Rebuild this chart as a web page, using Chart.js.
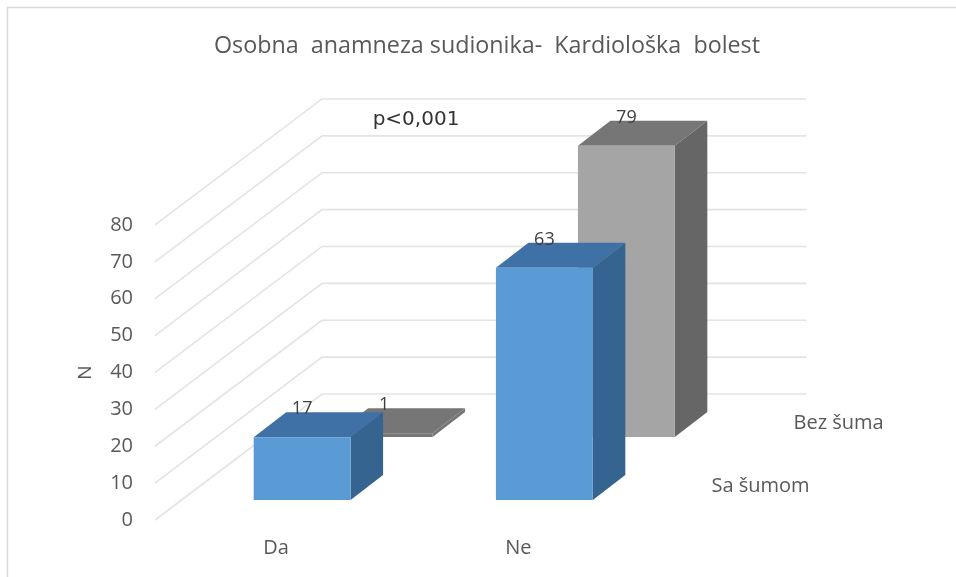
<!DOCTYPE html>
<html>
<head>
<meta charset="utf-8">
<style>html,body{margin:0;padding:0;background:#fff}#w{width:956px;height:577px}canvas{display:block}</style>
<script src="https://cdn.jsdelivr.net/npm/chart.js@4"></script>
</head>
<body>
<div id="w"><canvas id="c" width="956" height="577"></canvas></div>
<script>
const categories = ["Da", "Ne"];
const seriesNames = ["Sa šumom", "Bez šuma"];
const saSumom = [17, 63];
const bezSuma = [1, 79];
const yTicks = [0, 10, 20, 30, 40, 50, 60, 70, 80];
const chartTitle = "Osobna  anamneza sudionika-  Kardiološka  bolest";
const note = "p<0,001";
const frontColors = [["#5B9BD5", "#5B9BD5"], ["#767676", "#A5A5A5"]];
const topColors = ["#3F71A6", "#767676"];
const sideColors = [["#366490", "#366490"], ["#767676", "#666666"]];
const seriesShift = [[26, -20], [108, -83]];
const barDepth = [32.5, -25];
const wallShift = [167, -126];
const textFont = "'Open Sans', Lato, sans-serif";

const depth3d = {
  id: "depth3d",
  beforeDraw(chart) {
    const x = chart.ctx;
    x.save();
    x.strokeStyle = "#D9D9D9";
    x.lineWidth = 1.5;
    x.beginPath();
    x.moveTo(960, 7.5); x.lineTo(7.5, 7.5); x.lineTo(7.5, 580);
    x.stroke();
    x.restore();
  },
  afterLayout(chart) {
    chart.titleBlock.left = 214;
    chart.titleBlock.right = 760;
  },
  beforeDatasetsDraw(chart) {
    const x = chart.ctx, s = chart.scales.y, a = chart.chartArea;
    x.save();
    x.strokeStyle = "#E3E3E3";
    x.lineWidth = 1.6;
    yTicks.forEach(v => {
      const py = s.getPixelForValue(v);
      x.beginPath();
      x.moveTo(a.left, py);
      x.lineTo(a.left + wallShift[0], py + wallShift[1]);
      x.lineTo(a.right + wallShift[0], py + wallShift[1]);
      x.stroke();
    });
    x.restore();
  },
  beforeDatasetDraw(chart, args) {
    const x = chart.ctx, i = args.index, sh = seriesShift[i];
    x.save();
    x.translate(sh[0], sh[1]);
    args.meta.data.forEach((b, j) => {
      const l = b.x - b.width / 2, r = b.x + b.width / 2, t = b.y, bo = b.base;
      const dx = barDepth[0], dy = barDepth[1];
      x.fillStyle = topColors[i];
      x.beginPath();
      x.moveTo(l, t); x.lineTo(l + dx, t + dy); x.lineTo(r + dx, t + dy); x.lineTo(r, t);
      x.closePath(); x.fill();
      x.fillStyle = sideColors[i][j];
      x.beginPath();
      x.moveTo(r, t); x.lineTo(r + dx, t + dy); x.lineTo(r + dx, bo + dy); x.lineTo(r, bo);
      x.closePath(); x.fill();
    });
  },
  afterDatasetDraw(chart) {
    chart.ctx.restore();
  },
  afterDatasetsDraw(chart) {
    const x = chart.ctx, a = chart.chartArea;
    x.save();
    x.textBaseline = "middle";
    [1, 0].forEach(i => {
      const sh = seriesShift[i];
      const meta = chart.getDatasetMeta(i);
      x.font = "18px " + textFont;
      x.fillStyle = "#404040";
      x.textAlign = "center";
      meta.data.forEach((b, j) => {
        x.fillText(String(chart.data.datasets[i].data[j]), b.x + sh[0], b.y + sh[1] - 28);
      });
      x.fillStyle = "#595959";
      x.textAlign = "left";
      x.font = "20px " + textFont;
      x.fillText(seriesNames[i], a.right + sh[0] + 46, chart.scales.y.getPixelForValue(0) + sh[1] - 14);
    });
    x.font = "20px 'DejaVu Sans', sans-serif";
    x.fillStyle = "#333333";
    x.textAlign = "center";
    x.fillText(note, 416, 120);
    x.restore();
  }
};

new Chart(document.getElementById("c"), {
  type: "bar",
  plugins: [depth3d],
  data: {
    labels: categories,
    datasets: [
      { label: seriesNames[0], data: saSumom, backgroundColor: frontColors[0] },
      { label: seriesNames[1], data: bezSuma, backgroundColor: frontColors[1] }
    ]
  },
  options: {
    responsive: false,
    animation: false,
    layout: { padding: { left: 74, right: 316.5, top: 0, bottom: 0 } },
    datasets: { bar: { grouped: false, categoryPercentage: 1, barPercentage: 0.4 } },
    plugins: {
      legend: { display: false },
      tooltip: { enabled: false },
      title: {
        display: true,
        text: chartTitle,
        color: "#595959",
        font: { family: textFont, size: 23.3, weight: "normal" },
        padding: { top: 32, bottom: 165 }
      }
    },
    scales: {
      x: {
        afterFit(s) { s.height = 57; },
        grid: { display: false, drawTicks: false },
        border: { display: false },
        ticks: { color: "#595959", padding: 16, font: { family: textFont, size: 20 } }
      },
      y: {
        min: 0,
        max: 80,
        afterFit(s) { s.width = 81; },
        grid: { display: false, drawTicks: false },
        border: { display: false },
        afterBuildTicks(s) { s.ticks = yTicks.map(v => ({ value: v })); },
        ticks: { color: "#595959", padding: 22, font: { family: textFont, size: 20 } },
        title: { display: true, text: "N", color: "#595959", padding: 0, font: { family: textFont, size: 19 } }
      }
    }
  }
});
</script>
</body>
</html>
